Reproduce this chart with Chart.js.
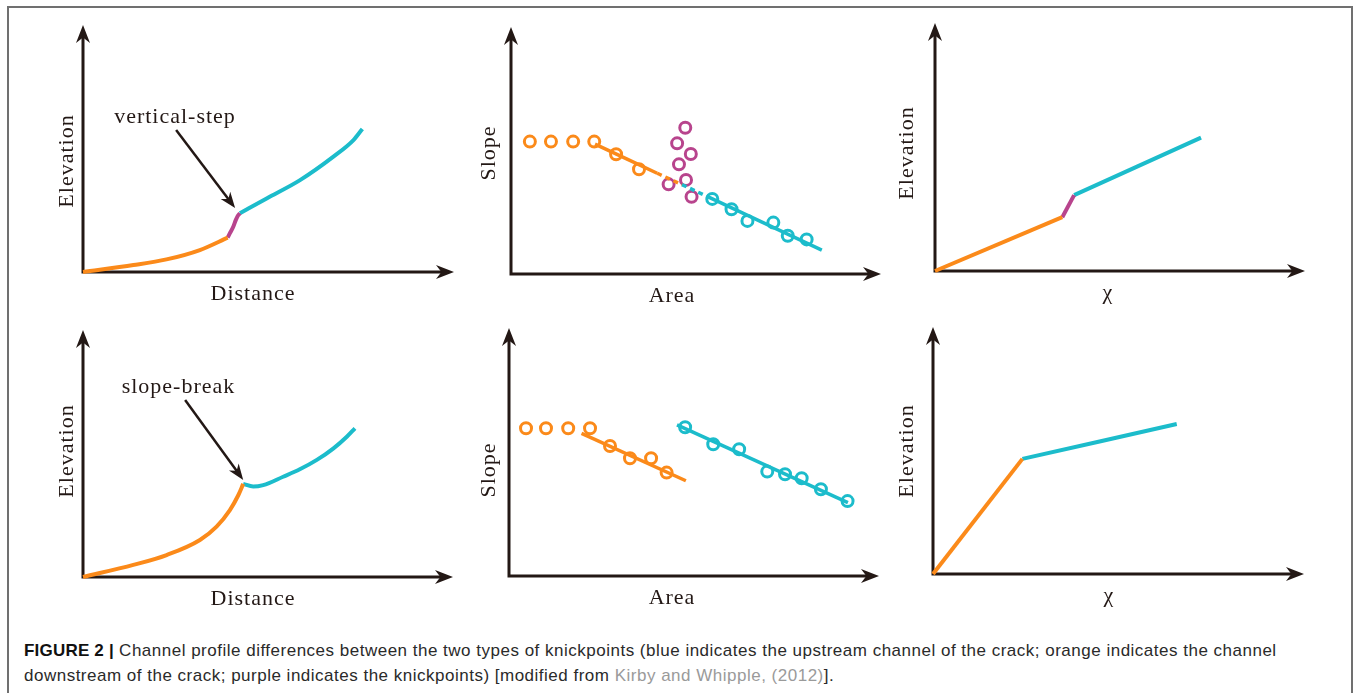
<!DOCTYPE html>
<html>
<head>
<meta charset="utf-8">
<script src="https://cdn.jsdelivr.net/npm/chart.js@4.4.0/dist/chart.umd.min.js"></script>
<style>
html, body { margin: 0; padding: 0; background: #fff; width: 1356px; height: 693px; overflow: hidden; }
#frame { position: absolute; left: 7px; top: 6px; width: 1342px; height: 700px; border: 2px solid #707070; border-bottom: none; }
canvas { position: absolute; }
#caption { position: absolute; left: 24px; top: 638px; font-family: "Liberation Sans", Arial, sans-serif;
  font-size: 17px; letter-spacing: 0.5px; line-height: 25px; color: #2a2a2a; white-space: nowrap; }
#caption b { color: #111; letter-spacing: 0.2px; }
#caption .ref { color: #9a9a9a; }
</style>
</head>
<body>
<div id="frame"></div>
<canvas id="c1"></canvas>
<canvas id="c2"></canvas>
<canvas id="c3"></canvas>
<canvas id="c4"></canvas>
<canvas id="c5"></canvas>
<canvas id="c6"></canvas>
<div id="caption"><b>FIGURE 2 |</b> Channel profile differences between the two types of knickpoints (blue indicates the upstream channel of the crack; orange indicates the channel<br>downstream of the crack; purple indicates the knickpoints) [modified from <span class="ref">Kirby and Whipple, (2012)</span>].</div>

<script>
var ORANGE = '#fb8a1a';
var CYAN = '#1cbccb';
var PURPLE = '#b8448d';
var INK = '#231815';

// axis titles
var distanceTitle = 'Distance';
var elevationTitle = 'Elevation';
var areaTitle = 'Area';
var slopeTitle = 'Slope';
var chiTitle = 'χ';

// top row: vertical-step knickpoint
var stepProfileOrange = [[0, 0], [1.36, 0.28], [2.25, 0.51], [3.15, 0.89], [3.90, 1.39]];
var stepProfilePurple = [[3.90, 1.39], [3.96, 1.57], [4.05, 1.83], [4.12, 2.11], [4.17, 2.27], [4.23, 2.38]];
var stepProfileCyan = [[4.23, 2.38], [4.95, 2.98], [5.85, 3.72], [6.75, 4.67], [7.29, 5.34], [7.53, 5.79]];

var stepSAOrangeDots = [[0.51, 5.36], [1.08, 5.36], [1.68, 5.36], [2.25, 5.36], [2.84, 4.85], [3.46, 4.24]];
var stepSAPurpleDots = [[4.71, 5.92], [4.49, 5.29], [4.86, 4.86], [4.54, 4.44], [4.73, 3.81], [4.26, 3.63], [4.88, 3.13]];
var stepSACyanDots = [[5.44, 3.04], [5.96, 2.62], [6.39, 2.15], [7.09, 2.08], [7.48, 1.55], [7.99, 1.40]];
var stepSAOrangeFit = [[2.27, 5.26], [3.95, 4.08]];
var stepSAOrangeFitDotted = [[3.95, 4.08], [4.62, 3.62]];
var stepSACyanFitDotted = [[4.62, 3.62], [5.30, 3.14]];
var stepSACyanFit = [[5.30, 3.14], [8.40, 0.97]];

var stepChiOrange = [[0, 0], [3.44, 2.17]];
var stepChiPurple = [[3.44, 2.17], [3.76, 3.06]];
var stepChiCyan = [[3.76, 3.06], [7.19, 5.38]];

// bottom row: slope-break knickpoint
var breakProfileOrange = [[0, 0], [1.36, 0.49], [2.26, 0.89], [3.16, 1.50], [3.61, 2.04], [3.97, 2.71], [4.20, 3.32], [4.33, 3.77]];
var breakProfileCyan = [[4.33, 3.77], [4.60, 3.66], [4.87, 3.72], [5.41, 4.06], [5.86, 4.36], [6.32, 4.74], [6.77, 5.21], [7.13, 5.68], [7.35, 6.02]];

var breakSAOrangeDots = [[0.46, 5.96], [1.00, 5.96], [1.60, 5.96], [2.19, 5.96], [2.73, 5.24], [3.27, 4.75], [3.84, 4.75], [4.26, 4.17]];
var breakSACyanDots = [[4.76, 6.00], [5.52, 5.31], [6.22, 5.11], [6.98, 4.21], [7.46, 4.10], [7.91, 3.94], [8.43, 3.50], [9.15, 3.02]];
var breakSAOrangeFit = [[1.96, 5.75], [4.78, 3.84]];
var breakSACyanFit = [[4.54, 6.09], [9.16, 2.96]];

var breakChiOrange = [[0, 0], [2.41, 4.66]];
var breakChiCyan = [[2.41, 4.66], [6.57, 6.07]];

function pts(arr) {
  return arr.map(function (p) { return { x: p[0], y: p[1] }; });
}

function curve(arr, color, dash, width) {
  return {
    data: pts(arr), showLine: true, borderColor: color, borderWidth: width || 4,
    borderDash: dash || [], pointRadius: 0, cubicInterpolationMode: 'monotone',
    borderCapStyle: 'butt', fill: false, clip: false
  };
}

function rings(arr, color) {
  return {
    data: pts(arr), showLine: false, pointRadius: 5.5, pointBorderWidth: 3,
    pointBorderColor: color, pointBackgroundColor: 'rgba(255,255,255,0)', clip: false
  };
}

function arrowHead(ctx, x0, y0, x1, y1, len, half) {
  var ang = Math.atan2(y1 - y0, x1 - x0);
  var dx = Math.cos(ang), dy = Math.sin(ang);
  var px = -dy, py = dx;
  ctx.beginPath();
  ctx.moveTo(x1, y1);
  ctx.lineTo(x1 - len * dx + half * px, y1 - len * dy + half * py);
  ctx.lineTo(x1 - 0.7 * len * dx, y1 - 0.7 * len * dy);
  ctx.lineTo(x1 - len * dx - half * px, y1 - len * dy - half * py);
  ctx.closePath();
  ctx.fill();
}

var sketchAxes = {
  id: 'sketchAxes',
  beforeDatasetsDraw: function (chart, args, opts) {
    var ctx = chart.ctx, a = chart.chartArea;
    ctx.save();
    ctx.strokeStyle = INK;
    ctx.fillStyle = INK;
    ctx.lineWidth = 3;
    ctx.lineJoin = 'miter';
    ctx.beginPath();
    ctx.moveTo(a.left, a.top + 10);
    ctx.lineTo(a.left, a.bottom);
    ctx.lineTo(a.right - 10, a.bottom);
    ctx.stroke();
    arrowHead(ctx, a.left, a.bottom, a.left, a.top, 18, 7);
    arrowHead(ctx, a.left, a.bottom, a.right, a.bottom, 18, 7);
    ctx.restore();
  },
  afterDraw: function (chart, args, opts) {
    var ctx = chart.ctx, a = chart.chartArea;
    var sx = chart.scales.x, sy = chart.scales.y;
    ctx.save();
    ctx.fillStyle = INK;
    ctx.font = '22px "Liberation Serif", "Times New Roman", serif';
    ctx.letterSpacing = '1px';
    ctx.textBaseline = 'alphabetic';
    ctx.textAlign = 'center';
    ctx.fillText(opts.xTitle, a.left + opts.xDx, a.bottom + 28);
    ctx.save();
    ctx.translate(a.left + opts.yDx, a.bottom + opts.yDy);
    ctx.rotate(-Math.PI / 2);
    ctx.fillText(opts.yTitle, 0, 0);
    ctx.restore();
    if (opts.note) {
      var n = opts.note;
      ctx.fillText(n.text, sx.getPixelForValue(n.at[0]), sy.getPixelForValue(n.at[1]));
      var x0 = sx.getPixelForValue(n.from[0]), y0 = sy.getPixelForValue(n.from[1]);
      var x1 = sx.getPixelForValue(n.to[0]), y1 = sy.getPixelForValue(n.to[1]);
      ctx.strokeStyle = INK;
      ctx.lineWidth = 2.5;
      ctx.beginPath();
      ctx.moveTo(x0, y0);
      var ang = Math.atan2(y1 - y0, x1 - x0);
      ctx.lineTo(x1 - 10 * Math.cos(ang), y1 - 10 * Math.sin(ang));
      ctx.stroke();
      arrowHead(ctx, x0, y0, x1, y1, 16, 6);
    }
    ctx.restore();
  }
};

var PAD = { left: 70, top: 20, right: 20, bottom: 40 };

function panel(id, box, datasets, axes) {
  var cv = document.getElementById(id);
  cv.width = box.right - box.left + PAD.left + PAD.right;
  cv.height = box.bottom - box.top + PAD.top + PAD.bottom;
  cv.style.left = (box.left - PAD.left) + 'px';
  cv.style.top = (box.top - PAD.top) + 'px';
  return new Chart(cv, {
    type: 'scatter',
    data: { datasets: datasets },
    options: {
      responsive: false,
      animation: false,
      events: [],
      layout: { padding: PAD },
      scales: {
        x: { type: 'linear', min: 0, max: 10, display: false },
        y: { type: 'linear', min: 0, max: 10, display: false }
      },
      plugins: {
        legend: { display: false },
        tooltip: { enabled: false },
        sketchAxes: axes
      }
    },
    plugins: [sketchAxes]
  });
}

panel('c1', { left: 83, top: 25, right: 454, bottom: 272 }, [
  curve(stepProfileOrange, ORANGE),
  curve(stepProfilePurple, PURPLE),
  curve(stepProfileCyan, CYAN)
], {
  xTitle: distanceTitle, xDx: 170, yTitle: elevationTitle, yDx: -10, yDy: -111,
  note: { text: 'vertical-step', at: [2.48, 6.03], from: [2.51, 5.75], to: [4.10, 2.59] }
});

panel('c2', { left: 511, top: 27, right: 881, bottom: 274 }, [
  curve(stepSAOrangeFit, ORANGE, [], 3.5),
  curve(stepSAOrangeFitDotted, ORANGE, [5, 4], 3.5),
  curve(stepSACyanFitDotted, CYAN, [5, 4], 3.5),
  curve(stepSACyanFit, CYAN, [], 3.5),
  rings(stepSAOrangeDots, ORANGE),
  rings(stepSAPurpleDots, PURPLE),
  rings(stepSACyanDots, CYAN)
], { xTitle: areaTitle, xDx: 161, yTitle: slopeTitle, yDx: -16, yDy: -121 });

panel('c3', { left: 935, top: 23, right: 1305, bottom: 271 }, [
  curve(stepChiOrange, ORANGE),
  curve(stepChiPurple, PURPLE),
  curve(stepChiCyan, CYAN)
], { xTitle: chiTitle, xDx: 173, yTitle: elevationTitle, yDx: -22, yDy: -118 });

panel('c4', { left: 83, top: 330, right: 453, bottom: 577 }, [
  curve(breakProfileOrange, ORANGE),
  curve(breakProfileCyan, CYAN)
], {
  xTitle: distanceTitle, xDx: 170, yTitle: elevationTitle, yDx: -10, yDy: -126,
  note: { text: 'slope-break', at: [2.58, 7.45], from: [2.76, 7.17], to: [4.33, 3.93] }
});

panel('c5', { left: 509, top: 328, right: 879, bottom: 576 }, [
  curve(breakSAOrangeFit, ORANGE, [], 3.5),
  curve(breakSACyanFit, CYAN, [], 3.5),
  rings(breakSAOrangeDots, ORANGE),
  rings(breakSACyanDots, CYAN)
], { xTitle: areaTitle, xDx: 163, yTitle: slopeTitle, yDx: -14, yDy: -106 });

panel('c6', { left: 933, top: 327, right: 1304, bottom: 574 }, [
  curve(breakChiOrange, ORANGE),
  curve(breakChiCyan, CYAN)
], { xTitle: chiTitle, xDx: 176, yTitle: elevationTitle, yDx: -20, yDy: -123 });
</script>
</body>
</html>
